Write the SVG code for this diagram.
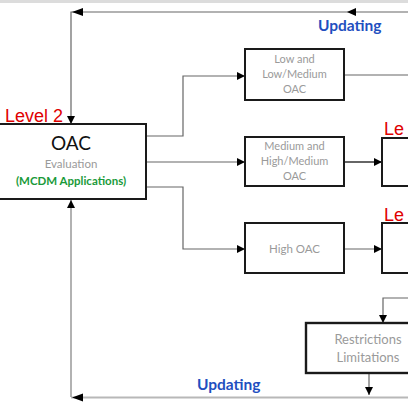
<svg xmlns="http://www.w3.org/2000/svg" width="408" height="408" viewBox="0 0 408 408">
<style>
.box{fill:#fff;stroke:#1a1a1a;stroke-width:2}
.ln{fill:none;stroke:#666;stroke-width:1.2}
.lt{fill:none;stroke:#b8b8b8;stroke-width:2}
.gt{font-family:Lato,"Open Sans",sans-serif;fill:#9a9a9a;text-anchor:middle}
.red{font-family:"Liberation Sans",Arial,sans-serif;fill:#e00000;font-size:18px}
.blue{font-family:Lato,"Open Sans",sans-serif;fill:#1f4fbf;font-weight:bold;font-size:15.5px}
.ah{fill:#000}
</style>
<defs>
<marker id="arr" viewBox="0 0 10 10" refX="10" refY="5" markerWidth="9" markerHeight="8" markerUnits="userSpaceOnUse" orient="auto">
<path d="M0,0 L10,5 L0,10 z" fill="#000"/>
</marker>
</defs>
<rect x="0" y="0" width="408" height="3" fill="#dcdcdc"/>
<g id="connectors">
<polyline class="ln" points="408,12 71,12 71,124" marker-end="url(#arr)"/>
<polygon class="ah" points="72,12 83,8 83,16"/>
<polygon class="ah" points="347,12 356,8 356,16"/>
<polyline class="lt" points="408,397.5 71,397.5"/>
<polyline class="ln" points="71,397 71,200" marker-end="url(#arr)" style="stroke:#999;stroke-width:1.5"/>
<polygon class="ah" points="72,397.5 83,393.5 83,401.5"/>
<polyline class="ln" points="146,136 183,136 183,76 245,76" marker-end="url(#arr)"/>
<polyline class="ln" points="146,162 245,162" marker-end="url(#arr)"/>
<polyline class="ln" points="146,187 183,187 183,249 245,249" marker-end="url(#arr)"/>
<polyline class="ln" points="344,75 408,75"/>
<polyline class="ln" points="344,162 382,162" marker-end="url(#arr)" style="stroke:#333;stroke-width:1.6"/>
<polyline class="ln" points="344,249 382,249" marker-end="url(#arr)"/>
<polyline class="ln" points="408,298 383,298 383,323" marker-end="url(#arr)"/>
<polyline class="ln" points="369,373 369,395" marker-end="url(#arr)"/>
</g>
<g id="oac">
<rect class="box" x="-5" y="124" width="151" height="75"/>
<text x="71" y="150" font-family="Lato,'Open Sans',sans-serif" font-size="19" fill="#111" text-anchor="middle">OAC</text>
<text class="gt" x="71" y="168" font-size="11.5">Evaluation</text>
<text x="71" y="185" font-family="Lato,'Open Sans',sans-serif" font-size="11.5" font-weight="bold" fill="#1a9a3a" text-anchor="middle">(MCDM Applications)</text>
<text class="red" x="63" y="122" text-anchor="end">Level 2</text>
</g>
<g id="low">
<rect class="box" x="245" y="49" width="99" height="51"/>
<text class="gt" x="294.5" y="63" font-size="11">Low and</text>
<text class="gt" x="294.5" y="78" font-size="11">Low/Medium</text>
<text class="gt" x="294.5" y="93" font-size="11">OAC</text>
</g>
<g id="medium">
<rect class="box" x="245" y="137" width="99" height="49"/>
<text class="gt" x="294.5" y="150" font-size="11">Medium and</text>
<text class="gt" x="294.5" y="165" font-size="11">High/Medium</text>
<text class="gt" x="294.5" y="180" font-size="11">OAC</text>
</g>
<g id="high">
<rect class="box" x="245" y="223" width="99" height="50"/>
<text class="gt" x="294.5" y="253" font-size="11.5">High OAC</text>
</g>
<g id="level3a">
<rect class="box" x="382" y="138" width="40" height="48"/>
<text class="red" x="384" y="135">Le</text>
</g>
<g id="level3b">
<rect class="box" x="382" y="223" width="40" height="50"/>
<text class="red" x="384" y="221">Le</text>
</g>
<g id="restrictions">
<rect class="box" x="306" y="323" width="110" height="50" style="stroke-width:2.4"/>
<text class="gt" x="368" y="344" font-size="13">Restrictions</text>
<text class="gt" x="368" y="362" font-size="13">Limitations</text>
</g>
<text class="blue" x="318" y="31">Updating</text>
<text class="blue" x="197" y="390">Updating</text>
</svg>
